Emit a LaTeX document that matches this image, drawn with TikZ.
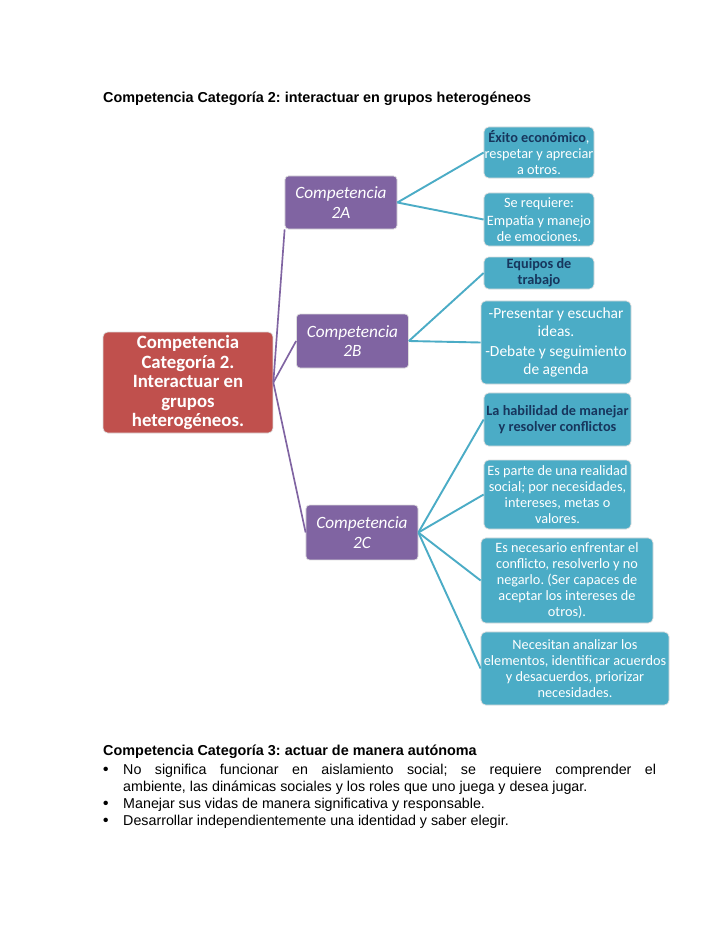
\documentclass[tikz,border=0pt]{standalone}
\usepackage{fontspec}
\setmainfont{Liberation Sans}
\newfontfamily\carlitofont{Carlito}
\usetikzlibrary{calc}
\definecolor{color_cat_root}{HTML}{C0504D}
\definecolor{color_cat_comp}{HTML}{8064A2}
\definecolor{color_cat_leaf}{HTML}{4BACC6}
\definecolor{color_cat_navy}{HTML}{17365D}
\definecolor{color_cat_rim}{HTML}{DDDDDD}
\frenchspacing

\begin{document}
\begin{tikzpicture}[x=0.8407pt, y=-0.8407pt,
        rootbox/.style={rectangle, rounded corners=4pt, fill=color_cat_root, draw=color_cat_rim, line width=0.6pt, text=white, align=center, inner sep=0pt, font={\carlitofont\fontsize{15.8}{16.4}\bfseries\selectfont}},
        compbox/.style={rectangle, rounded corners=3pt, fill=color_cat_comp, draw=color_cat_rim, line width=0.6pt, text=white, align=center, inner sep=0pt, minimum width=94.2pt, font={\carlitofont\fontsize{14.5}{16.5}\itshape\selectfont}},
        leafbox/.style={rectangle, rounded corners=4pt, fill=color_cat_leaf, draw=color_cat_rim, line width=0.6pt, text=white, align=center, inner sep=0pt, font={\carlitofont\fontsize{12}{13.5}\selectfont}},
        compline/.style={color_cat_comp, line width=1.4pt},
        leafline/.style={color_cat_leaf, line width=1.6pt},
        navytext/.style={text=color_cat_navy, font={\carlitofont\fontsize{12}{13.5}\bfseries\selectfont}}
    ]
    \fill[white] (0,0) rectangle (728,943);
    % heading
    \node[anchor=base west, inner sep=0pt, font=\fontsize{12.1}{14}\bfseries\selectfont] (cat2_title) at (103,102) {Competencia Categoría 2: interactuar en grupos heterogéneos};
    % root and competencias
    \node[rootbox, minimum width=142.9pt, minimum height=84.9pt] (root) at (188,382.5) {Competencia\\Categoría 2.\\Interactuar en\\grupos\\heterogéneos.};
    \node[compbox, minimum height=44.6pt] (comp_2a) at (341,202.5) {Competencia\\2A};
    \node[compbox, minimum height=45.4pt] (comp_2b) at (352.5,341) {Competencia\\2B};
    \node[compbox, minimum height=46.2pt] (comp_2c) at (362,532.5) {Competencia\\2C};
    % leaves 2A
    \node[leafbox, minimum width=92.5pt, minimum height=42.9pt] (leaf_a1) at (539,152.5) {{\bfseries\color{color_cat_navy}Éxito económico},\\respetar y apreciar\\a otros.};
    \node[leafbox, minimum width=92.5pt, minimum height=44.6pt] (leaf_a2) at (539,219.5) {Se requiere:\\[2pt]Empatía y manejo\\de emociones.};
    % leaves 2B
    \node[leafbox, navytext, minimum width=92.5pt, minimum height=26.9pt] (leaf_b1) at (539,273) {Equipos de\\trabajo};
    \node[leafbox, font={\carlitofont\fontsize{13}{14.5}\selectfont}, minimum width=126.1pt, minimum height=69.8pt] (leaf_b2) at (556,342.5) {-Presentar y escuchar\\ideas.\\[3pt]-Debate y seguimiento\\de agenda};
    % leaves 2C
    \node[leafbox, navytext, minimum width=123.6pt, minimum height=44.6pt] (leaf_c1) at (557.5,419.5) {La habilidad de manejar\\y resolver conflictos};
    \node[leafbox, minimum width=123.6pt, minimum height=58pt] (leaf_c2) at (557.5,494.5) {Es parte de una realidad\\social; por necesidades,\\intereses, metas o\\valores.};
    \node[leafbox, minimum width=144.6pt, minimum height=71.5pt] (leaf_c3) at (567,580.5) {Es necesario enfrentar el\\conflicto, resolverlo y no\\negarlo. (Ser capaces de\\aceptar los intereses de\\otros).};
    \node[leafbox, minimum width=158.1pt, minimum height=61.4pt] (leaf_c4) at (575,668.5) {Necesitan analizar los\\elementos, identificar acuerdos\\y desacuerdos, priorizar\\necesidades.};
    % connectors
    \draw[compline] (root.east) -- (comp_2a.south west);
    \draw[compline] (root.east) -- (comp_2b.west);
    \draw[compline] (root.east) -- (comp_2c.west);
    \draw[leafline] (comp_2a.east) -- (leaf_a1.west);
    \draw[leafline] (comp_2a.east) -- (leaf_a2.west);
    \draw[leafline] (comp_2b.east) -- (leaf_b1.west);
    \draw[leafline] (comp_2b.east) -- (leaf_b2.west);
    \draw[leafline] (comp_2c.east) -- (leaf_c1.west);
    \draw[leafline] (comp_2c.east) -- (leaf_c2.west);
    \draw[leafline] (comp_2c.east) -- (leaf_c3.west);
    \draw[leafline] (comp_2c.east) -- (leaf_c4.west);
    % categoria 3
    \node[anchor=base west, inner sep=0pt, font=\fontsize{12.1}{14}\bfseries\selectfont] (cat3_title) at (103,755) {Competencia Categoría 3: actuar de manera autónoma};
    \foreach \y/\name in {774/bullet_1, 808/bullet_2, 825/bullet_3}
        \node[anchor=base west, inner sep=0pt, font=\fontsize{13}{14.3}\bfseries\selectfont] (\name) at (103,\y) {•};
    \node[anchor=base west, inner sep=0pt, text width=448pt, align=justify, font=\fontsize{12}{14.3}\selectfont] (item_1) at (123,774) {No significa funcionar en aislamiento social; se requiere comprender el\linebreak ambiente, las dinámicas sociales y los roles que uno juega y desea jugar.};
    \node[anchor=base west, inner sep=0pt, font=\fontsize{12}{14.3}\selectfont] (item_2) at (123,808) {Manejar sus vidas de manera significativa y responsable.};
    \node[anchor=base west, inner sep=0pt, font=\fontsize{12}{14.3}\selectfont] (item_3) at (123,825) {Desarrollar independientemente una identidad y saber elegir.};
\end{tikzpicture}
\end{document}
